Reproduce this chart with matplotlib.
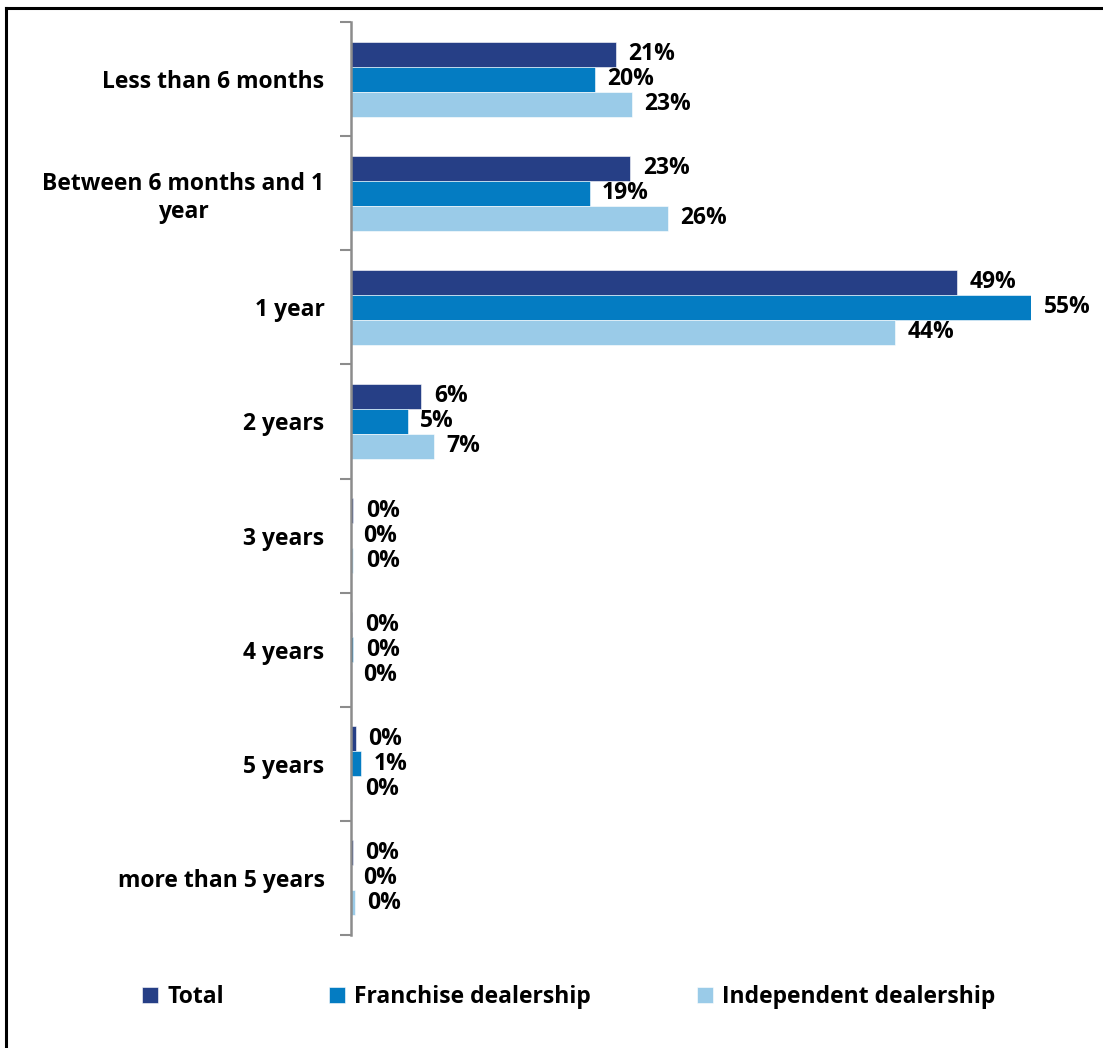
import numpy as np
import matplotlib
matplotlib.use("Agg")
import matplotlib.pyplot as plt
from matplotlib.lines import Line2D

categories = ["Less than 6 months", "Between 6 months and 1\nyear", "1 year",
              "2 years", "3 years", "4 years", "5 years", "more than 5 years"]
series = ["Total", "Franchise dealership", "Independent dealership"]
total = [21.4, 22.6, 49.0, 5.7, 0.2, 0.1, 0.4, 0.15]
franchise = [19.7, 19.3, 55.0, 4.6, 0.0, 0.2, 0.8, 0.0]
independent = [22.7, 25.6, 44.0, 6.7, 0.2, 0.0, 0.1, 0.3]
colors = ["#263F86", "#047CC2", "#9ACBE8"]

plt.rcParams['font.family'] = ['Open Sans', 'DejaVu Sans']
plt.rcParams['font.weight'] = 'bold'
FS = 16.5

fig = plt.figure(figsize=(11.03, 10.48), dpi=100)
ax = fig.add_axes([351/1103, 1 - 935/1048, (1031 - 351)/1103, (935 - 22)/1048])

n = len(categories)
y = np.arange(n)
h = 25/114.1
data = [total, franchise, independent]
for i, vals in enumerate(data):
    pos = y - h + i*h
    bars = ax.barh(pos, vals, height=h, color=colors[i], edgecolor='white', linewidth=0.4,
                   label=series[i])
    for b, v in zip(bars, vals):
        ax.annotate("%d%%" % round(v), (b.get_width(), b.get_y() + b.get_height()/2),
                    xytext=(9, 0), textcoords='offset points', va='center', ha='left',
                    fontsize=FS, fontweight='bold', annotation_clip=False)

ax.set_xlim(0, 55)
ax.set_ylim(n - 0.5, -0.5)
ax.set_yticks(y)
ax.set_yticklabels(categories, fontsize=FS, fontweight='bold', multialignment='center')
ax.set_yticks(np.arange(n + 1) - 0.5, minor=True)
ax.tick_params(axis='y', which='major', length=0, pad=19)
ax.tick_params(axis='y', which='minor', length=8, width=1.5, color='#8C8C8C', direction='out')
ax.set_xticks([])
for s in ['top', 'right', 'bottom']:
    ax.spines[s].set_visible(False)
ax.spines['left'].set_color('#8C8C8C')
ax.spines['left'].set_linewidth(1.8)

fig.legend(loc='center left', bbox_to_anchor=(142/1103, 1 - 997/1048), ncol=3,
           frameon=False, fontsize=FS, handlelength=0.7, handleheight=0.7,
           handletextpad=0.4, columnspacing=4.6, borderpad=0, borderaxespad=0)

# outer frame (top and left edges visible)
fig.add_artist(Line2D([6/1103, 1.01], [1 - 8/1048, 1 - 8/1048], transform=fig.transFigure,
                      color='black', linewidth=2.2))
fig.add_artist(Line2D([6/1103, 6/1103], [1 - 8/1048, -0.01], transform=fig.transFigure,
                      color='black', linewidth=2.2))

fig.savefig("out.png", dpi=100)
